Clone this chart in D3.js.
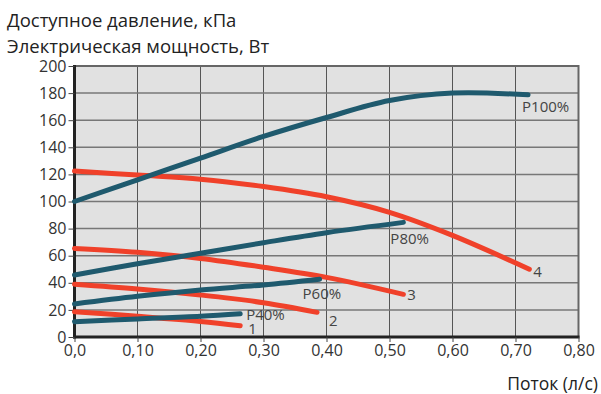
<!DOCTYPE html>
<meta charset="utf-8">
<style>
  body { margin: 0; background: #fff; }
  text { font-family: "Open Sans", "Noto Sans", sans-serif; }
</style>
<svg></svg>
<script src="https://cdn.jsdelivr.net/npm/d3@7/dist/d3.min.js"></script>
<script>

var width = 601,
    height = 394,
    svg = d3.select("svg").attr("width", width).attr("height", height);

// flow, l/s
var xTicks = [0, 0.1, 0.2, 0.3, 0.4, 0.5, 0.6, 0.7, 0.8];
var yTicks = [0, 20, 40, 60, 80, 100, 120, 140, 160, 180, 200];

// power curves (teal), [flow, W]
var p100 = [[0, 100], [0.1, 116], [0.2, 132], [0.3, 148], [0.4, 162], [0.5, 174.5], [0.6, 180], [0.72, 178.7]];
var p80 = [[0, 45.8], [0.1, 54], [0.2, 61.8], [0.3, 69.6], [0.4, 77], [0.522, 84.6]];
var p60 = [[0, 24.4], [0.1, 30], [0.2, 34.7], [0.3, 38.4], [0.389, 42.6]];
var p40 = [[0, 11.3], [0.1, 13.3], [0.2, 15.3], [0.263, 17.2]];

// pressure curves (red), [flow, kPa]
var c4 = [[0, 122.5], [0.1, 119.5], [0.2, 116.5], [0.3, 111], [0.4, 103.5], [0.5, 92], [0.6, 75], [0.722, 50]];
var c3 = [[0, 65.4], [0.1, 62.5], [0.2, 58], [0.3, 51.5], [0.4, 44], [0.522, 31.5]];
var c2 = [[0, 39], [0.1, 35.5], [0.2, 31], [0.3, 25.3], [0.385, 18.2]];
var c1 = [[0, 18.7], [0.1, 15.3], [0.2, 11.5], [0.263, 8.3]];

var powerCurves = [
  {name: "P100%", pts: p100, dx: -6, dy: 17},
  {name: "P80%", pts: p80, dx: -13, dy: 22},
  {name: "P60%", pts: p60, dx: -17, dy: 20},
  {name: "P40%", pts: p40, dx: 6, dy: 6}
];
var pressureCurves = [
  {name: "4", pts: c4, dx: 4, dy: 8},
  {name: "3", pts: c3, dx: 4, dy: 6},
  {name: "2", pts: c2, dx: 12, dy: 14},
  {name: "1", pts: c1, dx: 8, dy: 8}
];

var x = d3.scaleLinear().domain([0, 0.8]).range([74.5, 578.5]),
    y = d3.scaleLinear().domain([0, 200]).range([337, 66]);

var fmt = d => d === 0 ? "0,0" : d3.format(".2f")(d).replace(".", ",");

// background
svg.append("rect")
  .attr("x", x(0)).attr("y", y(200))
  .attr("width", x(0.8) - x(0)).attr("height", y(0) - y(200))
  .attr("fill", "#e1e1e1");

// grid
svg.append("g").selectAll("line").data(xTicks.slice(1, -1)).join("line")
  .attr("x1", d => x(d)).attr("x2", d => x(d))
  .attr("y1", y(200)).attr("y2", y(0))
  .attr("stroke", "#555").attr("stroke-width", 1);
svg.append("g").selectAll("line").data(yTicks.slice(1, -1)).join("line")
  .attr("x1", x(0)).attr("x2", x(0.8))
  .attr("y1", d => y(d)).attr("y2", d => y(d))
  .attr("stroke", "#777").attr("stroke-width", 1.5);

// top / right frame
svg.append("path")
  .attr("d", "M" + x(0) + "," + y(200) + "H" + x(0.8) + "V" + y(0))
  .attr("fill", "none").attr("stroke", "#666").attr("stroke-width", 2);

// axes
var xAxis = svg.append("g").attr("transform", "translate(0," + y(0) + ")")
  .call(d3.axisBottom(x).tickValues(xTicks).tickFormat(fmt).tickSize(5).tickPadding(3));
var yAxis = svg.append("g").attr("transform", "translate(" + x(0) + ",0)")
  .call(d3.axisLeft(y).tickValues(yTicks).tickSize(6).tickPadding(2));
[xAxis, yAxis].forEach(a => {
  a.select(".domain").attr("stroke", "#222").attr("stroke-width", 3);
  a.selectAll(".tick line").attr("stroke", "#444");
  a.selectAll(".tick text").attr("fill", "#333").style("font-size", "16px");
});
xAxis.select(".domain").attr("d", "M" + (x(0) - 1.5) + ",0H" + (x(0.8) + 1));
yAxis.select(".domain").attr("d", "M0," + (y(0) + 1.5) + "V" + (y(200) - 1));

var line = d3.line().x(d => x(d[0])).y(d => y(d[1])).curve(d3.curveCatmullRom.alpha(0.5));

function drawCurves(list, colour) {
  var g = svg.append("g");
  g.selectAll("path").data(list).join("path")
    .attr("d", d => line(d.pts))
    .attr("fill", "none")
    .attr("stroke", colour)
    .attr("stroke-width", 5)
    .attr("stroke-linecap", "round");
  g.selectAll("text").data(list).join("text")
    .attr("x", d => x(d.pts[d.pts.length - 1][0]) + d.dx)
    .attr("y", d => y(d.pts[d.pts.length - 1][1]) + d.dy)
    .attr("fill", "#444")
    .style("font-size", "15px")
    .text(d => d.name);
}
drawCurves(pressureCurves, "#f0412a");
drawCurves(powerCurves, "#1f5a6e");

// titles
svg.append("text").attr("x", 7).attr("y", 27).attr("fill", "#222")
  .style("font-size", "18.5px").text("Доступное давление, кПа");
svg.append("text").attr("x", 7).attr("y", 53).attr("fill", "#222")
  .style("font-size", "18.5px").text("Электрическая мощность, Вт");
svg.append("text").attr("x", 598).attr("y", 390).attr("fill", "#222")
  .attr("text-anchor", "end")
  .style("font-size", "17.5px").text("Поток (л/с)");

</script>
